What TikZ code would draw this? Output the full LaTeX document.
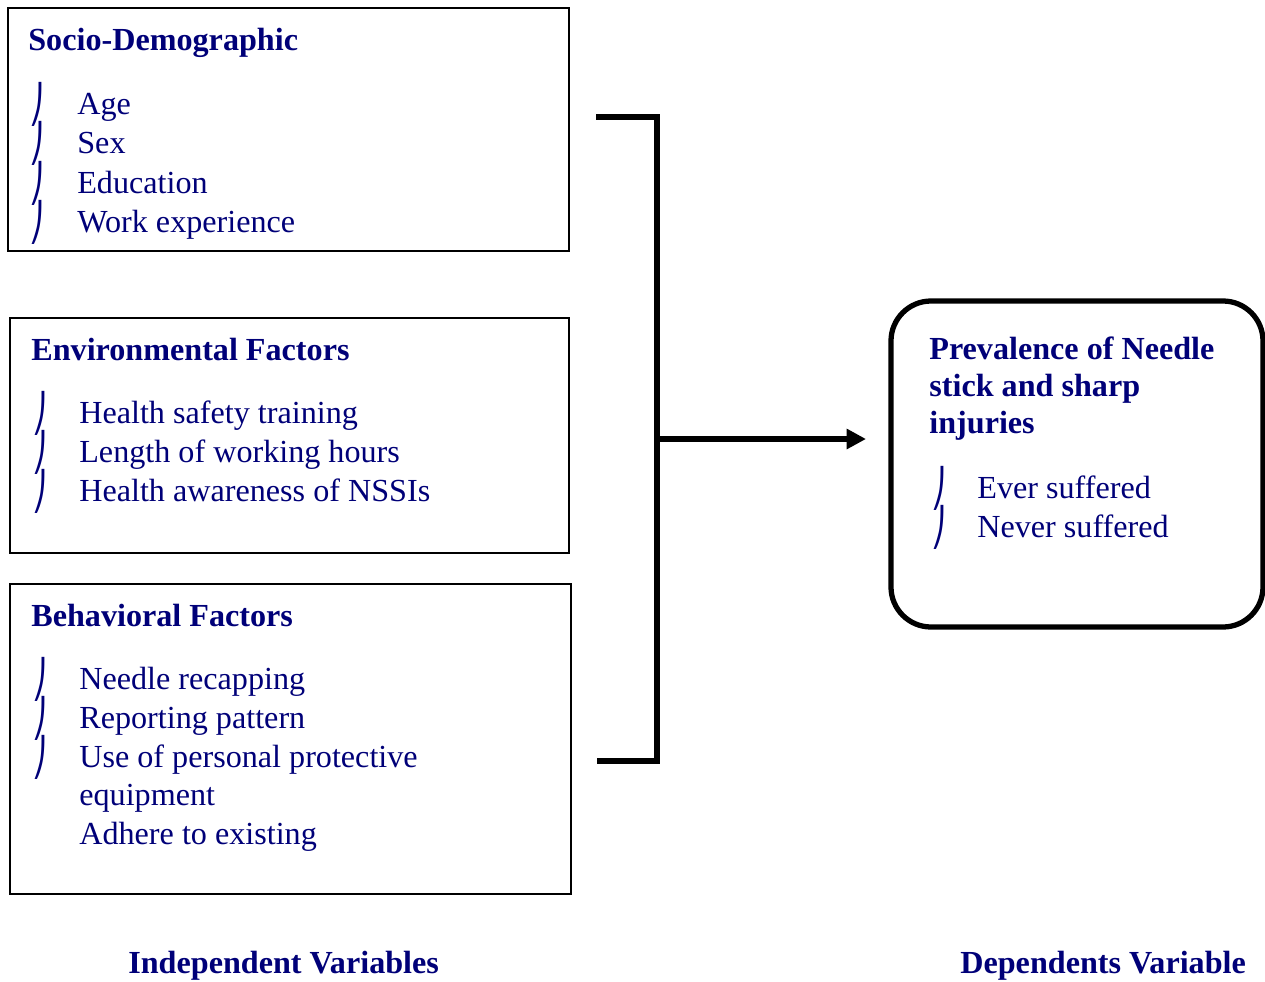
\documentclass[tikz,border=0pt]{standalone}
\usepackage{fontspec}
\setmainfont{Liberation Serif}
\newfontfamily\hookfont{DejaVu Sans}
\usetikzlibrary{arrows.meta}
\definecolor{navytext}{RGB}{0,0,120}
\newcommand{\hookbul}{{\hookfont ⎠}}
\tikzset{
  txt/.style={anchor=base west, inner sep=0pt, text=navytext, font=\fontsize{18.3}{22}\selectfont},
  head/.style={txt, font=\fontsize{18.3}{22}\selectfont\bfseries},
  bul/.style={anchor=base west, inner sep=0pt, text=navytext, font=\fontsize{17}{20}\selectfont, yscale=1.25, yshift=-1.7pt},
  frame/.style={line width=1.2pt},
  link/.style={line width=2.9pt}
}
\begin{document}
\begin{tikzpicture}[x=0.02cm, y=-0.02cm]
				\useasboundingbox (0,0) rectangle (1265,981);

				% Socio-demographic box
				\draw[frame] (8,8) rectangle (569,251);
				\node[head] (sdhead) at (28,50) {Socio-Demographic};
				\node[bul] (sdb1) at (29,114) {\hookbul};
				\node[bul] (sdb2) at (29,153) {\hookbul};
				\node[bul] (sdb3) at (29,193) {\hookbul};
				\node[bul] (sdb4) at (29,232) {\hookbul};
				\node[txt] (sdage) at (77,114) {Age};
				\node[txt] (sdsex) at (77,153) {Sex};
				\node[txt] (sdedu) at (77,193) {Education};
				\node[txt] (sdwork) at (77,232) {Work experience};

				% Environmental box
				\draw[frame] (10,318) rectangle (569,553);
				\node[head] (envhead) at (31,360) {Environmental Factors};
				\node[bul] (envb1) at (32,423) {\hookbul};
				\node[bul] (envb2) at (32,462) {\hookbul};
				\node[bul] (envb3) at (32,501) {\hookbul};
				\node[txt] (envtrain) at (79,423) {Health safety training};
				\node[txt] (envhours) at (79,462) {Length of working hours};
				\node[txt] (envaware) at (79,501) {Health awareness of NSSIs};

				% Behavioral box
				\draw[frame] (10,584) rectangle (571,894);
				\node[head] (bhhead) at (31,626) {Behavioral Factors};
				\node[bul] (bhb1) at (32,689) {\hookbul};
				\node[bul] (bhb2) at (32,728) {\hookbul};
				\node[bul] (bhb3) at (32,767) {\hookbul};
				\node[txt] (bhrecap) at (79,689) {Needle recapping};
				\node[txt] (bhreport) at (79,728) {Reporting pattern};
				\node[txt] (bhppe) at (79,767) {Use of personal protective};
				\node[txt] (bhppe2) at (79,805) {equipment};
				\node[txt] (bhadhere) at (79,844) {Adhere to existing};

				% Dependent box
				\draw[line width=3pt, rounded corners=0.8cm] (891,301) rectangle (1263,627);
				\node[head] (dep1) at (929,359) {Prevalence of Needle};
				\node[head] (dep2) at (929,396) {stick and sharp};
				\node[head] (dep3) at (929,433) {injuries};
				\node[bul] (depb1) at (931,498) {\hookbul};
				\node[bul] (depb2) at (931,537) {\hookbul};
				\node[txt] (depever) at (977,498) {Ever suffered};
				\node[txt] (depnever) at (977,537) {Never suffered};

				% Bracket and arrow
				\coordinate (brtop) at (596,117);
				\coordinate (brbot) at (597,761);
				\coordinate (brmid) at (657,439);
				\coordinate (arrend) at (866,439);
				\draw[link] (brtop) -| (brmid);
				\draw[link] (brbot) -| (brmid);
				\draw[link, -{Triangle[length=11pt,width=11pt]}] (brmid) -- (arrend);

				% Labels
				\node[head] (indep) at (128,973) {Independent Variables};
				\node[head] (dep) at (960,973) {Dependents Variable};
			\end{tikzpicture}
\end{document}
